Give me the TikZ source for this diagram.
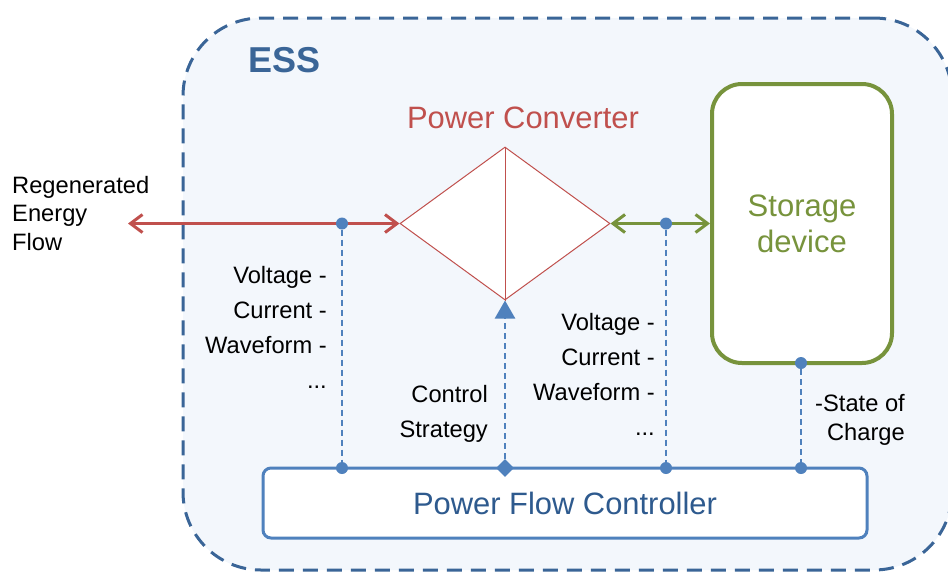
\documentclass[tikz,border=0pt]{standalone}
\usepackage{fontspec}
\setmainfont{Liberation Sans}
\usetikzlibrary{arrows.meta,shapes.geometric}
\definecolor{essblue}{HTML}{3A6597}
\definecolor{essfill}{HTML}{F3F7FC}
\definecolor{pcred}{HTML}{C0504D}
\definecolor{sgreen}{HTML}{77933C}
\definecolor{cblue}{HTML}{4F81BD}
\definecolor{ctext}{HTML}{2E5A8E}
\begin{document}
\begin{tikzpicture}[x=1pt,y=-1pt,
  essbox/.style={draw=essblue,fill=essfill,line width=3pt,dash pattern=on 15pt off 9pt,rounded corners=78pt,minimum width=769pt,minimum height=552pt,inner sep=0pt},
  lbl/.style={font=\fontsize{23.7}{34.8}\selectfont,text=black,inner sep=0pt},
  dot/.style={circle,fill=cblue,minimum size=12pt,inner sep=0pt},
  bdash/.style={draw=cblue,line width=2.5pt,dash pattern=on 6pt off 4pt},
  redarrow/.style={draw=pcred,line width=3pt,{Straight Barb[length=12pt,width=18pt]}-{Straight Barb[length=12pt,width=18pt]}},
  greenarrow/.style={draw=sgreen,line width=3pt,{Straight Barb[length=12pt,width=18pt]}-{Straight Barb[length=12pt,width=18pt]}},
  conv/.style={diamond,draw=pcred,fill=white,line width=1pt,minimum width=210pt,minimum height=153pt,inner sep=0pt},
  store/.style={draw=sgreen,fill=white,line width=4pt,rounded corners=30pt,minimum width=180pt,minimum height=279pt,align=center,text=sgreen,font=\fontsize{31}{36}\selectfont},
  ctrl/.style={draw=cblue,fill=white,line width=3pt,rounded corners=8pt,minimum width=604pt,minimum height=70pt,text=ctext,font=\fontsize{30.9}{34}\selectfont},
  cdiam/.style={diamond,fill=cblue,minimum size=18pt,inner sep=0pt}
]
\useasboundingbox (0,0) rectangle (948,571);
\clip (0,0) rectangle (948,571);
\node[essbox] (ess) at (567.5,294) {};
\node[anchor=base west,inner sep=0pt,text=essblue,font=\fontsize{36}{40}\selectfont\bfseries] (esst) at (248,72) {ESS};
\node[anchor=base,inner sep=0pt,text=pcred,font=\fontsize{30.9}{34}\selectfont] (pct) at (523,128) {Power Converter};
\node[conv] (pc) at (505,223.5) {};
\draw[draw=pcred,line width=1pt] (pc.north) -- (pc.south);
\node[store] (sd) at (802,223.5) {Storage\\device};
\node[ctrl] (pfc) at (565,503) {Power Flow Controller};
\coordinate (rl) at (128,223.5);
\draw[redarrow] (rl) -- (pc.west);
\draw[greenarrow] (pc.east) -- (sd.west);
\node[dot] (d1) at (342,223.5) {};
\node[dot] (d2) at (342,468) {};
\node[dot] (d3) at (666,223.5) {};
\node[dot] (d4) at (666,468) {};
\node[dot] (d5) at (801,363) {};
\node[dot] (d6) at (801,468) {};
\draw[bdash] (d1) -- (d2);
\draw[bdash] (d3) -- (d4);
\draw[bdash] (d5) -- (d6);
\node[cdiam] (cd) at (505,468) {};
\draw[bdash,-{Triangle[length=18pt,width=20pt]}] (cd) -- (pc.south);
\node[lbl,align=left,anchor=base west,font=\fontsize{23.7}{28.5}\selectfont] (regen) at (12,250) {Regenerated\\Energy\\Flow};
\node[lbl,align=right,anchor=base east] (ll) at (327,388) {Voltage -\\Current -\\Waveform -\\...};
\node[lbl,align=right,anchor=base east] (cs) at (488,437) {Control\\Strategy};
\node[lbl,align=right,anchor=base east] (rl2) at (655,435) {Voltage -\\Current -\\Waveform -\\...};
\node[lbl,align=right,anchor=base east,font=\fontsize{23.7}{28.5}\selectfont] (soc) at (905,440) {-State of\\Charge};
\end{tikzpicture}
\end{document}
